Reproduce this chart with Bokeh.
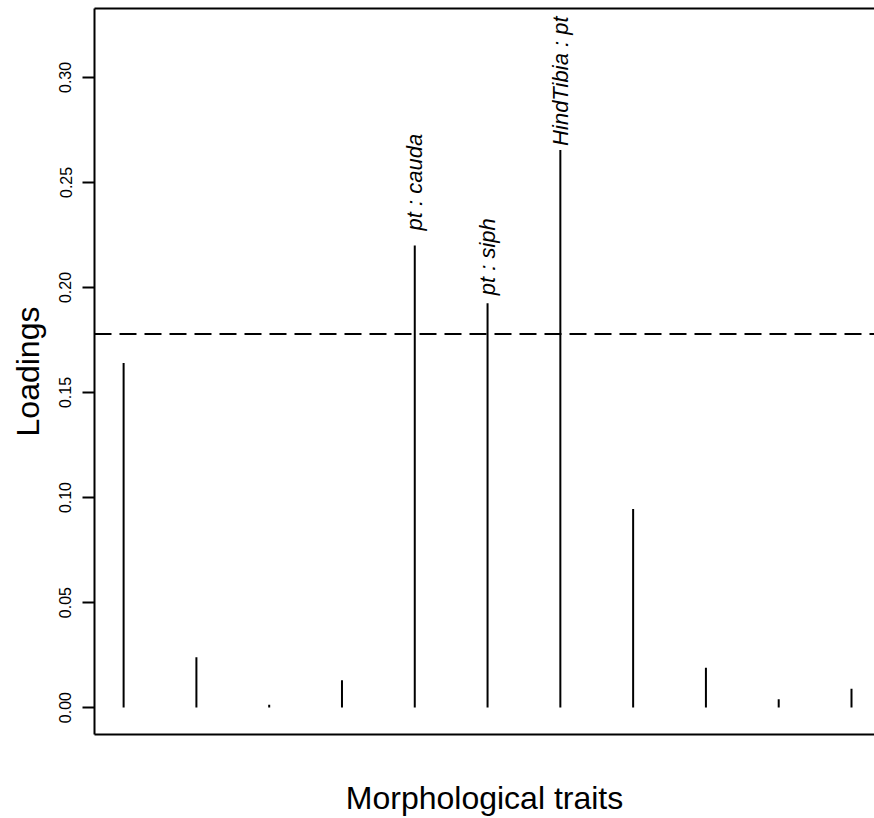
import math
from bokeh.plotting import figure
from bokeh.models import Range1d, LinearAxis, FixedTicker, Span, ColumnDataSource
from bokeh.core.properties import value
from bokeh.embed import file_html
from bokeh.resources import INLINE

# ---- data ----
trait_index = [1, 2, 3, 4, 5, 6, 7, 8, 9, 10, 11]
loadings = [0.164, 0.024, 0.0014, 0.013, 0.220, 0.1925, 0.2655, 0.0945, 0.019, 0.004, 0.009]
threshold = 0.1778
label_index = [5, 6, 7]
label_text = ["pt : cauda", "pt : siph", "HindTibia : pt"]
y_ticks = [0.00, 0.05, 0.10, 0.15, 0.20, 0.25, 0.30]
y_tick_labels = ["0.00", "0.05", "0.10", "0.15", "0.20", "0.25", "0.30"]

FONT = "Liberation Sans"

p = figure(width=874, height=818, output_backend="svg", toolbar_location=None,
           x_range=Range1d(0.6, 11.316), y_range=Range1d(-0.0128, 0.3328),
           min_border_left=94, min_border_right=0, min_border_top=8, min_border_bottom=83)
p.outline_line_color = None
p.grid.visible = False
p.background_fill_color = "white"
p.border_fill_color = "white"

# x axis (bottom border + label)
xa = p.xaxis[0]
xa.ticker = FixedTicker(ticks=[])
xa.axis_line_width = 2
xa.axis_line_color = "black"
xa.major_tick_line_color = None
xa.minor_tick_line_color = None
xa.axis_label = "Morphological traits"
xa.axis_label_text_font = FONT
xa.axis_label_text_font_size = "32px"
xa.axis_label_text_font_style = "normal"
xa.axis_label_text_color = "black"
xa.axis_label_standoff = 45

# y axis
ya = p.yaxis[0]
ya.ticker = FixedTicker(ticks=y_ticks)
ya.major_label_overrides = {t: s for t, s in zip(y_ticks, y_tick_labels)}
ya.major_label_orientation = "vertical"
ya.major_label_text_font = FONT
ya.major_label_text_font_size = "16px"
ya.major_label_text_color = "black"
ya.major_label_standoff = 11
ya.major_tick_in = 0
ya.major_tick_out = 12
ya.major_tick_line_color = "black"
ya.major_tick_line_width = 2
ya.minor_tick_line_color = None
ya.axis_line_width = 2
ya.axis_line_color = "black"
ya.axis_label = "Loadings"
ya.axis_label_text_font = FONT
ya.axis_label_text_font_size = "32px"
ya.axis_label_text_font_style = "normal"
ya.axis_label_text_color = "black"
ya.axis_label_standoff = 11

# top border
top = LinearAxis(ticker=FixedTicker(ticks=[]), axis_line_width=2, axis_line_color="black",
                 major_tick_line_color=None, minor_tick_line_color=None)
p.add_layout(top, "above")

# vertical loading lines
src = ColumnDataSource(dict(x=trait_index, y0=[0.0] * len(loadings), y1=loadings))
p.segment(x0="x", y0="y0", x1="x", y1="y1", source=src, line_color="black", line_width=2)

# threshold
p.add_layout(Span(location=threshold, dimension="width", line_color="black",
                  line_width=2, line_dash="17 8"))

# labels
label_gap = [15, 8, 4]
lsrc = ColumnDataSource(dict(x=label_index,
                             y=[loadings[i - 1] for i in label_index],
                             text=label_text,
                             yo=[-g for g in label_gap]))
p.text(x="x", y="y", text="text", source=lsrc, angle=math.pi / 2,
       text_align="left", text_baseline="middle", y_offset="yo",
       text_font=value(FONT), text_font_style="italic", text_font_size="22px",
       text_color="black")

open("out.html", "w").write(file_html(p, INLINE))
